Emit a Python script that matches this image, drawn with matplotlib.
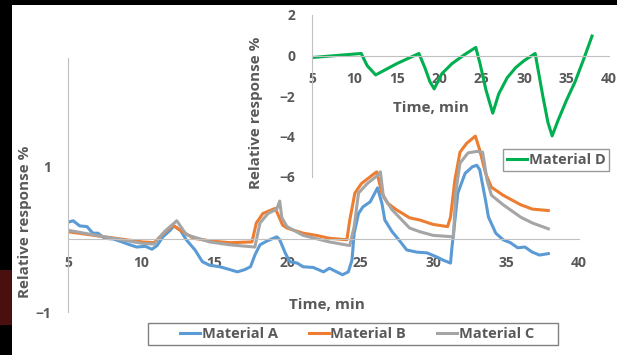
import matplotlib
matplotlib.use("Agg")
import matplotlib.pyplot as plt
from matplotlib.patches import Rectangle

# === Data ===
time_a = [5, 5.35, 5.8, 6.3, 6.7, 7.05, 7.5, 8.1, 8.7, 9.1, 9.7, 10.3, 10.75, 11.1, 11.5,
          12.0, 12.25, 12.7, 13.1, 13.7, 14.2, 14.7, 15.4, 16.1, 16.6, 17.1, 17.5, 17.8,
          18.15, 18.6, 19.3, 19.5, 19.9, 20.2, 20.7, 21.1, 21.8, 22.5, 22.9, 23.4, 23.8,
          24.2, 24.45, 24.6, 24.9, 25.2, 25.7, 26.2, 26.5, 26.7, 27.2, 27.7, 28.2, 28.9,
          29.6, 30.3, 30.7, 31.2, 31.3, 31.45, 31.7, 32.2, 32.7, 33.0, 33.2, 33.6, 33.8,
          34.3, 34.8, 35.3, 35.8, 36.3, 36.8, 37.3, 37.9]
material_a = [0.23, 0.25, 0.18, 0.17, 0.08, 0.08, 0.01, 0.0, -0.04, -0.07, -0.11, -0.1, -0.14,
              -0.09, 0.03, 0.12, 0.18, 0.12, -0.01, -0.15, -0.31, -0.36, -0.38, -0.42, -0.45,
              -0.42, -0.38, -0.22, -0.08, -0.03, 0.03, -0.01, -0.2, -0.31, -0.33, -0.38, -0.39,
              -0.45, -0.4, -0.45, -0.49, -0.45, -0.29, 0.08, 0.35, 0.44, 0.51, 0.7, 0.49, 0.26,
              0.1, -0.02, -0.15, -0.18, -0.19, -0.25, -0.29, -0.33, -0.11, 0.16, 0.63, 0.9,
              0.99, 1.01, 0.95, 0.53, 0.3, 0.08, -0.01, -0.05, -0.12, -0.11, -0.18, -0.22, -0.2]

time_b = [5, 7.5, 10.1, 10.9, 11.5, 12.2, 12.6, 13.6, 14.9, 16.1, 17.6, 17.9, 18.35, 19.2,
          19.7, 20.0, 21.1, 22.0, 22.9, 24.1, 24.3, 24.65, 25.1, 26.0, 26.15, 26.5, 26.9,
          27.5, 28.4, 29.1, 30.0, 31.0, 31.2, 31.5, 31.85, 32.3, 32.9, 33.2, 33.6, 34.0,
          34.8, 36.0, 36.8, 37.9]
material_b = [0.1, 0.03, -0.04, -0.05, 0.07, 0.19, 0.13, 0.01, -0.03, -0.05, -0.04, 0.22,
              0.35, 0.42, 0.19, 0.15, 0.08, 0.05, 0.01, -0.01, 0.26, 0.63, 0.76, 0.9, 0.92,
              0.63, 0.49, 0.4, 0.29, 0.26, 0.2, 0.17, 0.3, 0.81, 1.19, 1.31, 1.41, 1.22, 0.9,
              0.71, 0.6, 0.47, 0.41, 0.39]

time_c = [5, 7.5, 10.1, 10.9, 11.6, 12.45, 13.1, 14.7, 16.1, 17.8, 18.15, 18.7, 19.3, 19.5,
          19.65, 20.0, 21.1, 22.9, 24.3, 24.6, 24.9, 25.5, 26.25, 26.4, 26.6, 27.2, 28.4,
          29.1, 30.0, 31.4, 31.55, 31.85, 32.4, 33.0, 33.4, 33.7, 34.0, 34.8, 36.0, 36.8, 37.9]
material_c = [0.12, 0.03, -0.06, -0.07, 0.1, 0.25, 0.06, -0.04, -0.08, -0.11, 0.22, 0.35,
              0.41, 0.52, 0.29, 0.17, 0.05, -0.04, -0.09, 0.17, 0.63, 0.76, 0.88, 0.92, 0.58,
              0.4, 0.15, 0.1, 0.05, 0.03, 0.63, 1.04, 1.18, 1.2, 1.19, 0.81, 0.6, 0.47, 0.3,
              0.22, 0.14]

time_d = [5, 10.8, 11.5, 12.5, 15, 17.6, 18.3, 18.9, 19.4, 20.3, 21.5, 23, 24.3, 24.8, 25.5,
          26.3, 27, 28, 29, 30, 31.3, 31.6, 32.2, 32.8, 33.3, 34, 35, 36, 37, 38]
material_d = [-0.1, 0.1, -0.5, -0.96, -0.4, 0.1, -0.6, -1.3, -1.65, -0.9, -0.4, 0.05, 0.4,
              -0.4, -1.7, -2.85, -1.9, -1.1, -0.6, -0.25, 0.1, -0.6, -2.0, -3.3, -3.97, -3.2,
              -2.2, -1.3, -0.2, 0.96]

x_ticks = [5, 10, 15, 20, 25, 30, 35, 40]
main_y_ticks = [-1, 1]
inset_y_ticks = [-6, -4, -2, 0, 2]

# === Style ===
W, H = 617, 355
TEXT = "#595959"
AXIS = "#c0c0c0"
plt.rcParams["font.family"] = ["Open Sans", "DejaVu Sans"]
plt.rcParams["font.weight"] = "bold"

fig = plt.figure(figsize=(W / 100, H / 100), dpi=100, facecolor="black")
# white slide panel and the red strip at the left edge (behind the axes)
fig.patches.append(Rectangle((12 / W, 0), 605 / W, 350 / H, transform=fig.transFigure,
                             facecolor="white", edgecolor="none", zorder=-5))
fig.patches.append(Rectangle((0, 30 / H), 12 / W, 55 / H, transform=fig.transFigure,
                             facecolor="#4a1010", edgecolor="none", zorder=-5))


def style_axes(ax, yticks):
    ax.set_facecolor("none")
    for s in ("top", "right"):
        ax.spines[s].set_visible(False)
    ax.spines["bottom"].set_position(("data", 0))
    ax.spines["bottom"].set_color(AXIS)
    ax.spines["left"].set_color(AXIS)
    ax.set_xticks(x_ticks)
    ax.set_yticks(yticks)
    ax.tick_params(length=0, pad=12, labelsize=10, labelcolor=TEXT)
    for lab in ax.get_xticklabels() + ax.get_yticklabels():
        lab.set_fontweight("bold")


# === Main chart ===
ax = fig.add_axes([68 / W, 43 / H, 511 / W, 254 / H])
la, = ax.plot(time_a, material_a, color="#5b9bd5", lw=2.2, label="Material A")
lb, = ax.plot(time_b, material_b, color="#ed7d31", lw=2.2, label="Material B")
lc, = ax.plot(time_c, material_c, color="#a5a5a5", lw=2.2, label="Material C")
ax.set_xlim(5, 40)
ax.set_ylim(-1, 2.48)
style_axes(ax, main_y_ticks)

fig.text(25 / W, 1 - 222 / H, "Relative response %", rotation=90, ha="center", va="center",
         fontsize=11, color=TEXT, fontweight="bold")
fig.text(327 / W, 1 - 305 / H, "Time, min", ha="center", va="center",
         fontsize=11, color=TEXT, fontweight="bold")

# legend box drawn by hand, Excel-style wide padding
fig.patches.append(Rectangle((148 / W, 1 - 345 / H), 410 / W, 22 / H, transform=fig.transFigure,
                             facecolor="white", edgecolor="#808080", lw=1.0, zorder=4))
leg = fig.legend(handles=[la, lb, lc], loc="center", bbox_to_anchor=(357 / W, 1 - 334 / H),
                 ncol=3, frameon=False, handlelength=1.4, handletextpad=0.1,
                 columnspacing=2.1, borderpad=0.2,
                 labelcolor=TEXT, prop={"weight": "bold", "size": 10.5})
leg.set_zorder(5)

# === Inset chart (Material D) ===
ax2 = fig.add_axes([312 / W, 178 / H, 297 / W, 162 / H])
ld, = ax2.plot(time_d, material_d, color="#00b050", lw=2.2, label="Material D")
ax2.set_xlim(5, 40)
ax2.set_ylim(-6, 2)
style_axes(ax2, inset_y_ticks)

fig.text(256 / W, 1 - 113 / H, "Relative response %", rotation=90, ha="center", va="center",
         fontsize=11, color=TEXT, fontweight="bold")
fig.text(431 / W, 1 - 108 / H, "Time, min", ha="center", va="center",
         fontsize=11, color=TEXT, fontweight="bold")

leg2 = ax2.legend(handles=[ld], loc="center", bbox_to_anchor=(556 / W, 1 - 160 / H),
                  bbox_transform=fig.transFigure, fancybox=False, edgecolor="#808080",
                  handlelength=1.4, handletextpad=0.1, borderpad=0.25,
                  labelcolor=TEXT, prop={"weight": "bold", "size": 10.5})
leg2.get_frame().set_linewidth(1.0)

fig.savefig("out.png", dpi=100, facecolor=fig.get_facecolor())
